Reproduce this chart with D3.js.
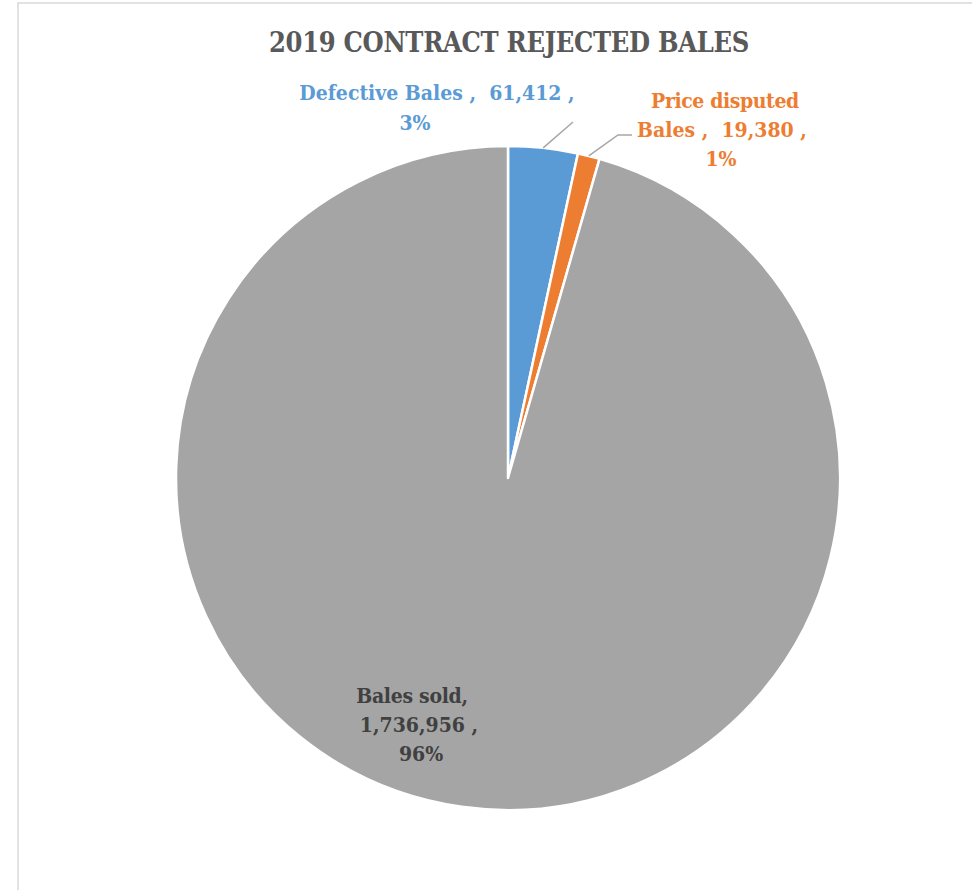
<!DOCTYPE html>
<html><head><meta charset="utf-8">
<script src="https://cdn.jsdelivr.net/npm/d3@7"></script>
<style>body{margin:0;background:#fff}svg{display:block}text{white-space:pre}</style>
</head><body>
<script>
const title = "2019 CONTRACT REJECTED BALES";
const categories = ["Defective Bales", "Price disputed Bales", "Bales sold"];
const values = [61412, 19380, 1736956];
const percents = ["3%", "1%", "96%"];
const colors = ["#5B9BD5", "#ED7D31", "#A5A5A5"];
const labelColors = ["#5B9BD5", "#ED7D31", "#404040"];

const W = 972, H = 890;
const cx = 508, cy = 478, R = 332;
const FONT = "'DejaVu Serif Condensed','DejaVu Serif',serif";

const svg = d3.select("body").append("svg").attr("width", W).attr("height", H);
svg.append("rect").attr("x", 18).attr("y", 3).attr("width", W).attr("height", H)
  .attr("fill", "#fff").attr("stroke", "#d9d9d9").attr("stroke-width", 1.5);

const fmt = d3.format(",");
const data = categories.map((c, i) => ({cat: c, value: values[i], pct: percents[i], i}));
const pie = d3.pie().value(d => d.value).sort(null);
const arcs = pie(data);
const arc = d3.arc().innerRadius(0).outerRadius(R);
const g = svg.append("g").attr("transform", `translate(${cx},${cy})`);
g.selectAll("path").data(arcs).join("path")
  .attr("d", arc).attr("fill", d => colors[d.data.i])
  .attr("stroke", "#fff").attr("stroke-width", 2.5).attr("stroke-linejoin", "round");

function txt(x, y, str, size, color, anchor) {
  return svg.append("text").attr("x", x).attr("y", y).attr("fill", color)
    .attr("font-family", FONT).attr("font-weight", "bold").attr("font-size", size)
    .attr("text-anchor", anchor || "middle").text(str);
}

// title
txt(509, 52, title, 27, "#595959").attr("letter-spacing", -0.3);

// leader lines
function edgePoint(a) {
  const m = (a.startAngle + a.endAngle) / 2;
  return [cx + R * Math.sin(m), cy - R * Math.cos(m)];
}
const leaders = [
  [edgePoint(arcs[0]), [573, 122]],
  [edgePoint(arcs[1]), [618, 135], [632, 135]]
];
leaders.forEach(pts => {
  svg.append("path").attr("d", d3.line()(pts)).attr("fill", "none")
    .attr("stroke", "#a6a6a6").attr("stroke-width", 1.5);
});

// labels
const FS = 21;
const d0 = data[0], d1 = data[1], d2 = data[2];
txt(437, 100, `${d0.cat} ,  ${fmt(d0.value)} ,`, FS, labelColors[0]);
txt(415, 130, d0.pct, FS, labelColors[0]);

txt(725, 108, "Price disputed", FS, labelColors[1]).attr("letter-spacing", -0.4);
txt(722, 137, `Bales ,  ${fmt(d1.value)} ,`, FS, labelColors[1]);
txt(721, 166, d1.pct, FS, labelColors[1]);

txt(412, 703, "Bales sold,", FS, labelColors[2]).attr("letter-spacing", -0.3);
txt(419, 732, `${fmt(d2.value)} ,`, FS, labelColors[2]);
txt(421, 761, d2.pct, FS, labelColors[2]);
</script>
</body></html>
